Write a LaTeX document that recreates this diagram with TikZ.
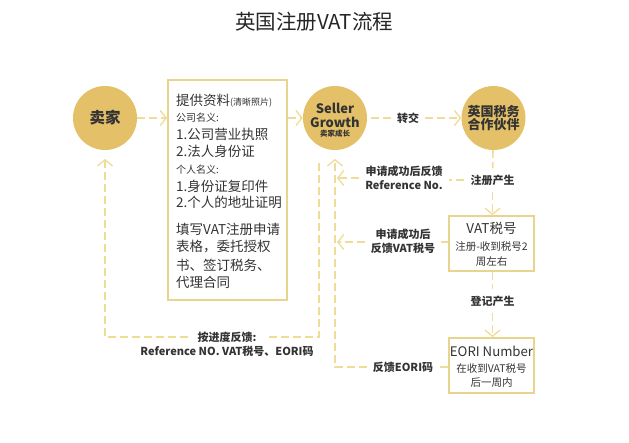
\documentclass[tikz,border=0pt]{standalone}
\usepackage{fontspec}
\setmainfont{Noto Sans CJK SC}
\usetikzlibrary{arrows.meta}
\newcommand{\fsz}[1]{\fontsize{#1}{\dimexpr#1pt*14/11\relax}\selectfont}
\definecolor{ffgold}{HTML}{E4C068}
\definecolor{ffline}{HTML}{EFDC98}
\definecolor{ffbox}{HTML}{E8D48C}
\definecolor{fftext}{HTML}{333333}
\tikzset{
  circ/.style={circle,fill=ffgold,minimum size=64pt,inner sep=0pt,align=center,text=fftext,font=\bfseries\fsz{14}},
  stepbox/.style={draw=ffbox,line width=2pt,inner sep=0pt,minimum width=85pt,text=fftext},
  lab/.style={text=fftext,align=center,inner sep=6pt,font=\bfseries\fsz{11}},
  info/.style={text=fftext,anchor=west,inner sep=0pt,font=\fsz{13.5}},
  infosmall/.style={text=fftext,anchor=west,inner sep=0pt,font=\fsz{10}},
  dline/.style={draw=ffline,line width=1.6pt,dash pattern=on 8pt off 4pt},
  dtip/.style={dline,-{Straight Barb[length=6pt,width=15pt,line width=1.3pt]}}
}
\begin{document}
\begin{tikzpicture}[x=1pt,y=-1pt]
\useasboundingbox (0,0) rectangle (629,442);
\node (title) at (314,22) {\fsz{20.5}\color{black!85}英国注册VAT流程};
\node[circ,font=\bfseries\fsz{15.5}] (seller) at (105,118) {卖家};
\node[circ] (growth) at (335,118) {};
\node[text=fftext,inner sep=0pt,font=\bfseries\fsz{13}] (growth1) at (335,108) {Seller};
\node[text=fftext,inner sep=0pt,font=\bfseries\fsz{13}] (growth2) at (335,122) {Growth};
\node[text=fftext,inner sep=0pt,font=\bfseries\fsz{7.5}] (growth3) at (335,134) {卖家成长};
\node[circ,font=\bfseries\fsz{13}] (partner) at (493.5,118) {英国税务\\[-3pt]合作伙伴};
\node[stepbox,minimum width=119pt,minimum height=220pt] (infobox) at (227.5,190) {};
\node[stepbox,minimum height=55pt] (vatbox) at (491.5,243.5) {};
\node[stepbox,minimum height=55pt] (eoribox) at (491.5,365.5) {};
\node[info] (info1) at (176,101) {提供资料{\fsz{9}(清晰照片)}};
\node[infosmall] (info2) at (176,118) {公司名义:};
\node[info] (info3) at (176,134) {1.公司营业执照};
\node[info] (info4) at (176,151) {2.法人身份证};
\node[infosmall] (info5) at (176,170) {个人名义:};
\node[info] (info6) at (176,186) {1.身份证复印件};
\node[info] (info7) at (176,202) {2.个人的地址证明};
\node[info] (info8) at (176,229) {填写VAT注册申请};
\node[info] (info9) at (176,247) {表格，委托授权};
\node[info] (info10) at (176,265) {书、签订税务、};
\node[info] (info11) at (176,282) {代理合同};
\node[text=fftext,font=\fsz{13.5}] (vat1) at (491.5,228) {VAT税号};
\node[text=fftext,font=\fsz{10.5}] (vat2) at (491.5,247) {注册-收到税号2};
\node[text=fftext,font=\fsz{10.5}] (vat3) at (491.5,262) {周左右};
\node[text=fftext,font=\fsz{13.2}] (eori1) at (491.5,351) {EORI Number};
\node[text=fftext,font=\fsz{10.5}] (eori2) at (491.5,369) {在收到VAT税号};
\node[text=fftext,font=\fsz{10.5}] (eori3) at (491.5,383) {后一周内};
\node[lab] (transfer) at (408,118) {转交};
\node[lab] (reg) at (492.5,180) {注册产生};
\node[lab] (record) at (492.5,301) {登记产生};
\node[lab] (refno) at (404,178) {申请成功后反馈\\Reference No.};
\node[lab] (vatback) at (403,241) {申请成功后\\反馈VAT税号};
\node[lab] (eoriback) at (403,367) {反馈EORI码};
\node[lab] (progress) at (227,344) {按进度反馈:\\Reference NO. VAT税号、EORI码};
\coordinate (refup) at (335,159);
\coordinate (eoricorner) at (335,367);
\coordinate (gline) at (319,163);
\coordinate (gcorner) at (319,337);
\coordinate (scorner) at (105,337);
\coordinate (stip) at (105,159);
\coordinate (reftip) at (337,178);
\coordinate (vattip) at (337,242);
\coordinate (progl) at (188,337);
\coordinate (progr) at (267,337);
\draw[dtip] (seller) -- (infobox.west |- seller);
\draw[dtip] (infobox.east |- growth) -- (growth);
\draw[dline,shorten <=4pt] (growth) -- (transfer);
\draw[dtip] (transfer) -- (partner);
\draw[dline] (partner) -- (reg);
\draw[dtip] (reg) -- (vatbox.north -| reg);
\draw[dline] (vatbox.south -| record) -- (record);
\draw[dtip] (record) -- (eoribox.north -| record);
\draw[dline] (reg.west) -- (refno.east |- reg.west);
\draw[dtip] (refno.west |- reftip) -- (reftip);
\draw[dline] (vatbox.west |- vattip) -- (vatback.east |- vattip);
\draw[dtip] (vatback.west |- vattip) -- (vattip);
\draw[dline] (eoribox.west |- eoricorner) -- (eoriback.east);
\draw[dtip] (eoriback.west) -- (eoricorner) -- (refup);
\draw[dline] (gline) -- (gcorner) -- (progr);
\draw[dtip] (progl) -- (scorner) -- (stip);
\end{tikzpicture}
\end{document}
